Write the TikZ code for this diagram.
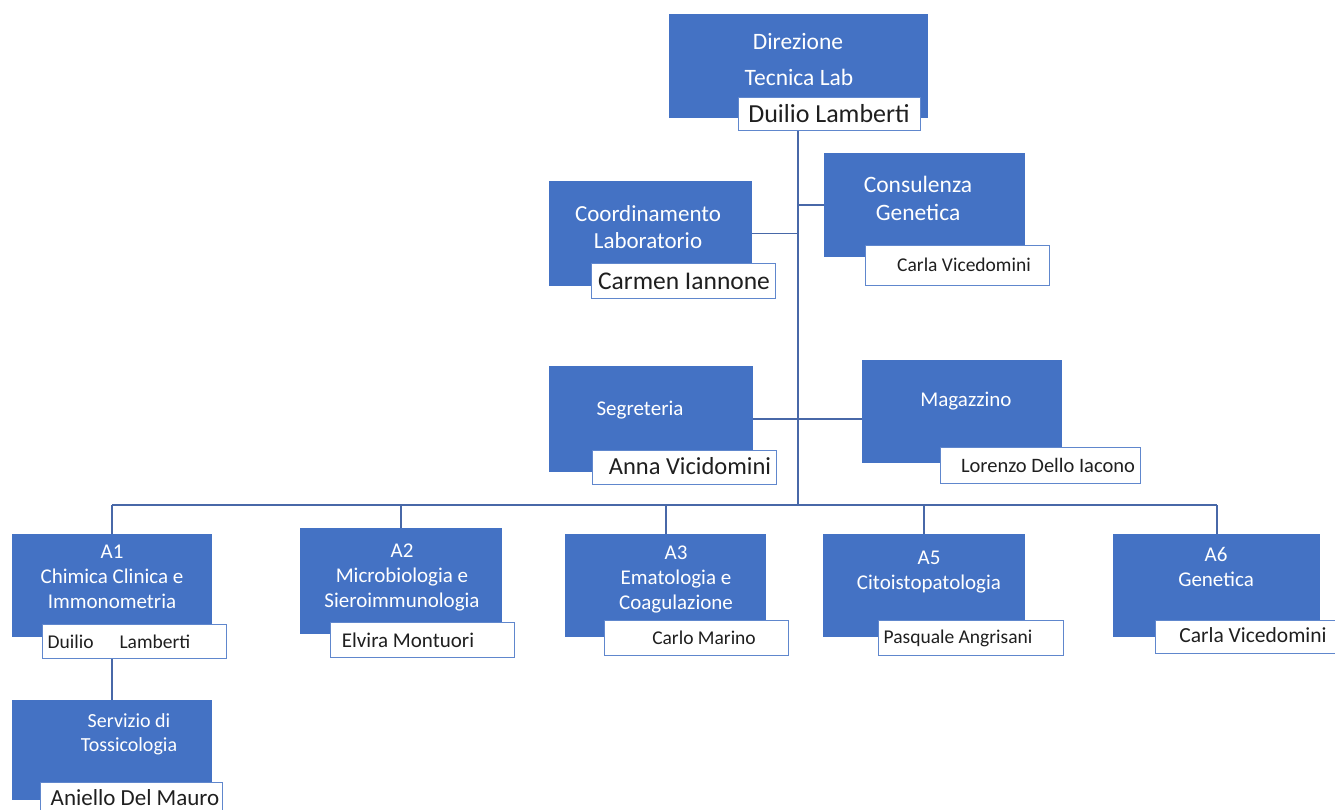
\documentclass[tikz,border=0pt]{standalone}
\usepackage{fontspec}
\setmainfont{Carlito}
\definecolor{boxblue}{RGB}{68,114,196}
\definecolor{linblue}{RGB}{72,104,168}
\begin{document}
\begin{tikzpicture}[x=1pt,y=-1pt,
  bbox/.style={rectangle, fill=boxblue, draw=none, inner sep=0pt, anchor=north west},
  lbox/.style={rectangle, fill=white, draw=boxblue!85, line width=0.9pt, inner sep=0pt, anchor=north west},
  ttl/.style={text=white, inner sep=0pt, align=center, font=\fontsize{21}{25}\selectfont},
  bigttl/.style={ttl, font=\fontsize{23.5}{28}\selectfont},
  nm/.style={text=black!88, inner sep=0pt, font=\fontsize{#1}{#1}\selectfont},
  conn/.style={draw=linblue, line width=1.6pt}
]
\useasboundingbox (0,0) rectangle (1335,810);

% ---- boxes
\node[bbox, minimum width=259, minimum height=104] (dir) at (669,14) {};
\node[bbox, minimum width=203, minimum height=105] (coord) at (549,181) {};
\node[bbox, minimum width=201, minimum height=104] (cons) at (824,153) {};
\node[bbox, minimum width=204, minimum height=106] (seg) at (549,366) {};
\node[bbox, minimum width=200, minimum height=103] (mag) at (862,360) {};
\node[bbox, minimum width=200, minimum height=103] (a1) at (12,534) {};
\node[bbox, minimum width=202, minimum height=106] (a2) at (300,528) {};
\node[bbox, minimum width=201, minimum height=103] (a3) at (565,534) {};
\node[bbox, minimum width=202, minimum height=103] (a5) at (823,534) {};
\node[bbox, minimum width=207, minimum height=103] (a6) at (1113,534) {};
\node[bbox, minimum width=200, minimum height=100] (serv) at (12,700) {};

% ---- connectors
\coordinate (bus) at (798,505);
\draw[conn] (bus |- dir.south) -- (bus);
\draw[conn] (coord.east) -- (coord.east -| bus);
\draw[conn] (cons.west) -- (cons.west -| bus);
\draw[conn] (seg.east) -- (seg.east -| mag.west);
\draw[conn] (a1.north |- bus) -- (a6.north |- bus);
\draw[conn] (a1.north |- bus) -- (a1.north);
\draw[conn] (a2.north |- bus) -- (a2.north);
\draw[conn] (a3.north |- bus) -- (a3.north);
\draw[conn] (a5.north |- bus) -- (a5.north);
\draw[conn] (a6.north |- bus) -- (a6.north);

% ---- name labels
\node[lbox, minimum width=182, minimum height=33] (dirL) at (738,97) {};
\node[lbox, minimum width=184, minimum height=35] (coordL) at (591,263) {};
\node[lbox, minimum width=184, minimum height=40] (consL) at (865,245) {};
\node[lbox, minimum width=184, minimum height=34] (segL) at (592,450) {};
\node[lbox, minimum width=200, minimum height=36] (magL) at (940,447) {};
\node[lbox, minimum width=184, minimum height=34] (a1L) at (42,624) {};
\node[lbox, minimum width=184, minimum height=35] (a2L) at (330,622) {};
\node[lbox, minimum width=184, minimum height=35] (a3L) at (604,620) {};
\node[lbox, minimum width=185, minimum height=35] (a5L) at (878,620) {};
\node[lbox, minimum width=180, minimum height=33] (a6L) at (1155,620) {};
\node[lbox, minimum width=182, minimum height=28] (servL) at (40,782) {};
\draw[conn] (serv.north |- a1L.south) -- (serv.north);

% ---- titles
\node[bigttl] (dirT1) at (798,42) {Direzione};
\node[bigttl] (dirT2) at (799,77) {Tecnica Lab};
\node[ttl, font=\fontsize{23}{27}\selectfont] (coordT) at (648,227) {Coordinamento\\Laboratorio};
\node[ttl, font=\fontsize{23.5}{28}\selectfont] (consT) at (918,198) {Consulenza\\Genetica};
\node[ttl] (segT) at (640,410) {Segreteria};
\node[ttl] (magT) at (966,401) {Magazzino};
\node[ttl] (a1T) at (112,577) {A1\\Chimica Clinica e\\Immonometria};
\node[ttl] (a2T) at (402,577) {A2\\Microbiologia e\\Sieroimmunologia};
\node[ttl] (a3T) at (676,579) {A3\\Ematologia e\\Coagulazione};
\node[ttl] (a5T) at (929,572) {A5\\Citoistopatologia};
\node[ttl] (a6T) at (1216,567) {A6\\Genetica};
\node[ttl, font=\fontsize{20}{24}\selectfont] (servT) at (129,734) {Servizio di\\Tossicologia};

% ---- names
\node[nm=26] (dirN) at (829,114) {Duilio Lamberti};
\node[nm=25.5] (coordN) at (684,281) {Carmen Iannone};
\node[nm=19.5] (consN) at (964,265) {Carla Vicedomini};
\node[nm=24.5] (segN) at (690,466) {Anna Vicidomini};
\node[nm=20.5] (magN) at (1048,465) {Lorenzo Dello Iacono};
\node[nm=19.5] (a1N) at (119,642) {Duilio\hspace{26pt}Lamberti};
\node[nm=21] (a2N) at (408,640) {Elvira Montuori};
\node[nm=19.5] (a3N) at (704,638) {Carlo Marino};
\node[nm=19.5] (a5N) at (958,638) {Pasquale Angrisani};
\node[nm=21.5] (a6N) at (1253,635) {Carla Vicedomini};
\node[nm=23] (servN) at (135,798) {Aniello Del Mauro};
\end{tikzpicture}
\end{document}
